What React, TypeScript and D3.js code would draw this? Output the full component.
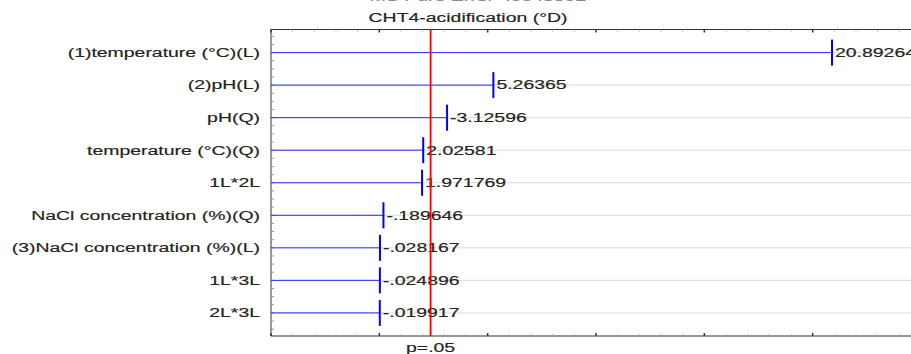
import React from "react";
import * as d3 from "d3";

const categories = [
  "(1)temperature (°C)(L)",
  "(2)pH(L)",
  "pH(Q)",
  "temperature (°C)(Q)",
  "1L*2L",
  "NaCl concentration (%)(Q)",
  "(3)NaCl concentration (%)(L)",
  "1L*3L",
  "2L*3L",
];
const effects = [20.89264, 5.26365, -3.12596, 2.02581, 1.971769, -0.189646, -0.028167, -0.024896, -0.019917];
const effectLabels = ["20.89264", "5.26365", "-3.12596", "2.02581", "1.971769", "-.189646", "-.028167", "-.024896", "-.019917"];
const xDomain = [-5, 25];
const pCritical = 2.365;
const title = "CHT4-acidification (°D)";
const cutTitle = "MS Pure Error=.0048592";
const pLabel = "p=.05";

const W = 911;
const H = 354;
const left = 271;
const right = 921;
const top = 29.5;
const bottom = 336;
const SX = 1.62;
const FONT = "'Liberation Sans', Arial, sans-serif";

function T({ x, y, anchor = "start", children, fill = "#222" }: any) {
  return (
    <g transform={`translate(${x},${y}) scale(${SX},1)`}>
      <text x={0} y={0} textAnchor={anchor} fontFamily={FONT} fontSize={12} fill={fill} stroke={fill} strokeWidth={0.15}>
        {children}
      </text>
    </g>
  );
}

export default function App() {
  const x = d3.scaleLinear().domain(xDomain).range([left, right]);
  const y = d3.scalePoint<string>().domain(categories).range([top, bottom]).padding(0.71);
  const step = y.step();
  const majors = d3.range(xDomain[0], xDomain[1] + 0.001, 5);
  const minors = d3.range(xDomain[0], xDomain[1] + 0.001, 1).filter((v) => v % 5 !== 0);
  const y0 = y(categories[0])!;
  const yMinor: number[] = [];
  for (let k = -8; k < 60; k++) {
    const p = y0 + (k * step) / 4;
    if (p > top + 1 && p < bottom - 1) yMinor.push(p);
  }
  return (
    <svg width={W} height={H} style={{ position: "absolute", left: 0, top: 0, background: "#fff" }}>
      <T x={478} y={1} anchor="middle" fill="#888">{cutTitle}</T>
      <T x={468} y={21.5} anchor="middle">{title}</T>
      {categories.map((c) => (
        <line key={"g" + c} x1={left} x2={right} y1={y(c)} y2={y(c)} stroke="#dcdcdc" strokeWidth={1} />
      ))}
      <line x1={left} x2={right} y1={top} y2={top} stroke="#333" />
      <line x1={left} x2={right} y1={bottom} y2={bottom} stroke="#333" />
      <line x1={left} x2={left} y1={top} y2={bottom} stroke="#333" />
      {minors.map((v) => (
        <g key={"mi" + v}>
          <line x1={x(v)} x2={x(v)} y1={top} y2={top + 2} stroke="#aaa" />
          <line x1={x(v)} x2={x(v)} y1={bottom} y2={bottom - 2} stroke="#aaa" />
        </g>
      ))}
      {majors.map((v) => (
        <g key={"ma" + v}>
          <line x1={x(v)} x2={x(v)} y1={top} y2={top + 3} stroke="#333" strokeWidth={1.5} />
          <line x1={x(v)} x2={x(v)} y1={bottom} y2={bottom - 3} stroke="#333" strokeWidth={1.5} />
        </g>
      ))}
      {yMinor.map((p, i) => (
        <line key={"ym" + i} x1={left} x2={left + 3} y1={p} y2={p} stroke="#999" />
      ))}
      {categories.map((c, i) => {
        const v = Math.abs(effects[i]);
        const yy = y(c)!;
        return (
          <g key={"b" + c}>
            <line x1={left} x2={x(v)} y1={yy} y2={yy} stroke="#2a2aff" strokeWidth={1} />
            <line x1={x(v)} x2={x(v)} y1={yy - 13} y2={yy + 13} stroke="#0000ff" strokeWidth={2} />
            <T x={x(v) + 3} y={yy + 4.3}>{effectLabels[i]}</T>
            <T x={260} y={yy + 4.3} anchor="end">{c}</T>
          </g>
        );
      })}
      <line x1={x(pCritical)} x2={x(pCritical)} y1={top} y2={bottom} stroke="#ff0000" strokeWidth={1.8} />
      <T x={x(pCritical)} y={351.5} anchor="middle">{pLabel}</T>
    </svg>
  );
}
